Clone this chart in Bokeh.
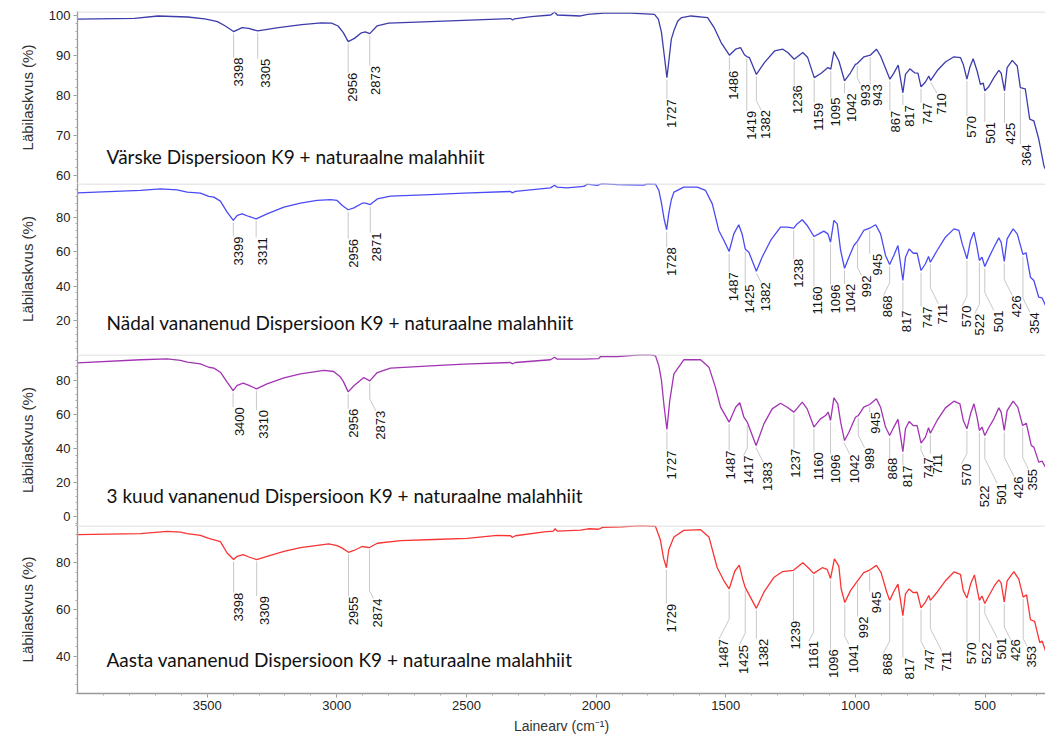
import numpy as np
from bokeh.plotting import figure
from bokeh.layouts import column
from bokeh.models import Range1d, SingleIntervalTicker, FixedTicker, Span, Label
from bokeh.embed import file_html
from bokeh.resources import INLINE
from bokeh.core.properties import value

# ---------------- data ----------------
titles = ["Värske Dispersioon K9 + naturaalne malahhiit",
          "Nädal vananenud Dispersioon K9 + naturaalne malahhiit",
          "3 kuud vananenud Dispersioon K9 + naturaalne malahhiit",
          "Aasta vananenud Dispersioon K9 + naturaalne malahhiit"]
y_label = "Läbilaskvus (%)"
x_label = "Lainearv (cm\u207b\u00b9)"
x_tick_labels = [3500, 3000, 2500, 2000, 1500, 1000, 500]

wn_1 = [4000, 3780, 3690, 3575, 3510, 3495, 3460, 3430, 3398, 3365,
        3340, 3305, 3225, 3135, 3060, 3020, 2995, 2975, 2956, 2932,
        2905, 2890, 2873, 2845, 2800, 2640, 2330, 2322, 2315, 2250,
        2175, 2160, 2150, 2060, 2032, 1970, 1865, 1775, 1760, 1748,
        1736, 1727, 1719, 1710, 1698, 1685, 1670, 1634, 1570, 1545,
        1518, 1486, 1462, 1443, 1428, 1419, 1409, 1382, 1351, 1312,
        1280, 1261, 1236, 1203, 1184, 1159, 1132, 1106, 1095, 1083,
        1064, 1042, 1019, 1000, 993, 967, 943, 919, 903, 867,
        852, 835, 817, 807, 790, 772, 759, 747, 730, 717,
        710, 685, 653, 620, 595, 584, 570, 559, 546, 531,
        518, 507, 501, 486, 466, 447, 438, 425, 415, 395,
        376, 364, 345, 328, 312, 293, 273, 267]
tr_1 = [99.2, 99.4, 100.0, 99.75, 99.3, 99.1, 98.6, 97.5, 96.1, 97.1,
        96.9, 96.25, 97.1, 97.85, 98.3, 98.2, 97.5, 95.85, 93.6, 94.4,
        95.8, 96.0, 95.6, 97.5, 98.2, 98.6, 99.35, 99.0, 99.3, 99.85,
        100.25, 101.0, 100.25, 100.0, 100.4, 100.7, 100.7, 100.4, 99.2, 95.9,
        89.5, 84.6, 89.0, 94.2, 96.7, 98.75, 99.6, 100.0, 99.6, 97.1,
        93.35, 90.2, 91.7, 92.1, 90.3, 89.85, 89.6, 85.4, 88.35, 91.25,
        91.7, 90.85, 89.2, 90.85, 89.6, 84.6, 85.7, 87.1, 86.7, 91.1,
        88.8, 83.8, 85.8, 87.9, 88.1, 89.8, 90.2, 91.7, 90.0, 84.2,
        85.7, 87.7, 80.8, 85.4, 86.8, 85.8, 85.7, 82.3, 83.5, 85.0,
        83.9, 86.3, 88.5, 89.8, 89.6, 87.9, 84.2, 87.1, 89.3, 86.3,
        82.9, 83.2, 81.3, 82.3, 84.6, 86.4, 85.7, 81.3, 87.1, 88.9,
        87.5, 82.1, 81.8, 74.2, 73.8, 69.2, 62.5, 61.7]

wn_2 = [4000, 3757, 3680, 3616, 3577, 3526, 3494, 3474, 3449, 3423,
        3399, 3384, 3365, 3339, 3311, 3269, 3204, 3140, 3076, 3024,
        2999, 2979, 2956, 2934, 2902, 2889, 2871, 2844, 2793, 2639,
        2510, 2330, 2324, 2311, 2176, 2160, 2150, 2112, 2047, 2035,
        1996, 1977, 1919, 1816, 1803, 1771, 1758, 1748, 1738, 1728,
        1720, 1710, 1700, 1662, 1610, 1578, 1552, 1527, 1507, 1487,
        1469, 1450, 1437, 1425, 1411, 1382, 1360, 1327, 1289, 1263,
        1238, 1225, 1205, 1186, 1160, 1141, 1122, 1106, 1096, 1083,
        1070, 1057, 1042, 1025, 1006, 992, 968, 945, 922, 903,
        884, 868, 852, 836, 817, 807, 793, 777, 762, 747,
        730, 718, 711, 685, 653, 620, 601, 588, 570, 556,
        543, 531, 522, 512, 501, 486, 466, 447, 438, 426,
        415, 392, 376, 354, 342, 325, 312, 293, 280, 267]
tr_2 = [94.0, 95.4, 96.3, 95.75, 94.4, 93.8, 91.9, 91.5, 89.2, 82.8,
        78.0, 80.9, 81.8, 80.3, 78.9, 81.8, 85.7, 88.0, 89.6, 90.1,
        89.6, 86.7, 84.2, 85.3, 88.0, 88.0, 87.2, 90.5, 92.1, 93.0,
        93.8, 94.8, 94.0, 94.8, 96.9, 98.45, 97.3, 96.9, 97.7, 99.0,
        98.3, 99.4, 98.8, 98.45, 99.2, 99.0, 95.4, 88.0, 79.0, 72.6,
        82.0, 90.0, 94.4, 97.3, 97.3, 95.4, 87.6, 72.2, 66.4, 60.0,
        70.2, 75.5, 70.2, 61.5, 59.6, 48.6, 56.7, 66.4, 74.1, 74.1,
        73.5, 76.0, 78.4, 75.1, 68.7, 70.2, 71.8, 70.2, 65.4, 78.0,
        76.0, 60.6, 50.3, 56.7, 63.5, 66.0, 72.2, 73.5, 75.5, 70.2,
        57.7, 52.5, 57.7, 63.5, 43.2, 56.7, 61.5, 59.0, 59.0, 49.0,
        52.9, 57.1, 53.8, 60.6, 68.3, 73.1, 72.2, 64.4, 55.8, 66.4,
        71.2, 62.5, 54.8, 56.7, 51.3, 56.3, 62.5, 67.9, 65.4, 54.2,
        67.3, 73.1, 70.2, 58.3, 59.3, 45.1, 43.2, 33.5, 33.1, 28.7]

wn_3 = [4000, 3757, 3654, 3603, 3577, 3526, 3494, 3474, 3449, 3423,
        3400, 3384, 3361, 3339, 3310, 3269, 3204, 3140, 3050, 3012,
        2986, 2975, 2956, 2934, 2896, 2873, 2844, 2793, 2639, 2510,
        2330, 2324, 2311, 2176, 2160, 2150, 2047, 1990, 1983, 1919,
        1829, 1790, 1771, 1758, 1748, 1738, 1727, 1716, 1700, 1662,
        1597, 1565, 1540, 1520, 1487, 1462, 1446, 1430, 1417, 1383,
        1353, 1321, 1289, 1263, 1237, 1205, 1186, 1160, 1135, 1115,
        1105, 1096, 1083, 1068, 1057, 1042, 1025, 1000, 989, 968,
        945, 919, 903, 884, 868, 852, 836, 817, 807, 793,
        777, 762, 747, 730, 718, 711, 685, 653, 620, 597,
        584, 570, 556, 543, 531, 522, 512, 501, 486, 466,
        447, 438, 426, 415, 392, 374, 355, 341, 322, 312,
        293, 280, 267]
tr_3 = [90.4, 92.2, 92.7, 91.8, 90.8, 89.8, 87.8, 87.3, 84.9, 79.0,
        74.1, 77.1, 78.4, 77.1, 75.1, 78.0, 81.6, 83.9, 85.9, 85.3,
        82.0, 79.5, 73.3, 76.9, 81.8, 79.8, 84.7, 87.3, 88.6, 89.6,
        90.6, 89.8, 90.6, 92.2, 93.7, 92.55, 92.55, 92.9, 94.1, 94.1,
        95.1, 95.1, 94.5, 88.6, 80.0, 65.0, 51.2, 68.2, 83.9, 92.2,
        92.2, 87.85, 76.1, 64.3, 55.5, 64.3, 66.9, 58.4, 55.5, 41.8,
        54.5, 63.3, 66.6, 64.3, 61.4, 67.3, 63.3, 52.6, 57.45, 59.4,
        61.4, 56.5, 69.8, 66.3, 55.5, 44.7, 49.6, 58.4, 59.4, 64.3,
        65.9, 69.2, 64.3, 52.6, 47.6, 52.6, 57.1, 38.2, 51.6, 55.9,
        53.5, 53.5, 43.1, 46.7, 52.2, 49.0, 56.5, 63.9, 67.85, 66.3,
        56.5, 51.6, 60.4, 66.3, 58.4, 50.6, 52.6, 47.6, 52.2, 57.45,
        63.9, 61.4, 50.6, 62.3, 67.85, 64.3, 53.5, 54.9, 41.8, 40.8,
        32.0, 32.6, 29.0]

wn_4 = [4000, 3757, 3654, 3603, 3577, 3526, 3494, 3449, 3423, 3398,
        3384, 3361, 3339, 3309, 3269, 3204, 3140, 3031, 2999, 2979,
        2955, 2934, 2902, 2874, 2844, 2754, 2626, 2497, 2382, 2330,
        2324, 2311, 2200, 2165, 2158, 2150, 2060, 2030, 1990, 1975,
        1900, 1829, 1771, 1752, 1740, 1729, 1720, 1700, 1662, 1597,
        1565, 1533, 1507, 1487, 1465, 1448, 1433, 1425, 1382, 1353,
        1315, 1282, 1239, 1203, 1186, 1161, 1128, 1109, 1096, 1081,
        1064, 1055, 1041, 1019, 992, 968, 945, 919, 901, 880,
        868, 852, 836, 817, 807, 793, 777, 762, 747, 730,
        717, 711, 685, 653, 620, 595, 584, 570, 556, 541,
        531, 522, 512, 501, 486, 464, 447, 438, 426, 415,
        389, 370, 353, 340, 325, 309, 289, 280, 267]
tr_4 = [92.1, 92.5, 93.5, 93.2, 92.5, 91.8, 90.45, 89.1, 84.2, 81.4,
        82.8, 83.5, 82.5, 81.4, 82.8, 84.9, 86.55, 88.1, 87.4, 86.3,
        84.5, 85.3, 87.0, 86.55, 88.4, 89.5, 90.0, 90.45, 91.8, 91.6,
        90.9, 91.6, 93.3, 93.6, 94.6, 93.6, 94.0, 94.6, 94.4, 95.2,
        95.4, 96.0, 95.6, 89.75, 82.0, 77.9, 85.6, 91.1, 93.9, 94.2,
        91.1, 77.9, 72.3, 68.8, 76.5, 79.0, 72.3, 69.5, 60.5, 67.4,
        73.7, 76.2, 76.8, 80.0, 78.3, 75.5, 77.9, 77.2, 73.3, 81.7,
        78.6, 68.8, 63.0, 68.1, 72.3, 75.8, 76.9, 78.9, 75.8, 67.7,
        63.9, 67.7, 70.9, 57.4, 66.7, 68.8, 67.2, 67.4, 60.7, 63.2,
        66.0, 63.9, 67.4, 72.3, 76.1, 75.1, 68.1, 64.9, 70.9, 74.8,
        68.8, 63.9, 65.8, 62.55, 65.8, 70.2, 72.7, 71.3, 63.2, 72.3,
        76.2, 73.0, 65.3, 66.3, 55.6, 54.9, 45.8, 46.5, 42.3]

# peak annotations: peak wavenumber, label top (panel units), label shift (px)
peaks_1 = [3398, 3305, 2956, 2873, 1727, 1486, 1419, 1382, 1236, 1159, 1095,
           1042, 993, 943, 867, 817, 747, 710, 570, 501, 425, 364]
ltop_1 = [89.6, 89.3, 85.8, 87.5, 79.2, 86.3, 76.3, 76.5, 82.7, 78.3, 79.6,
          80.7, 82.9, 82.9, 76.3, 77.7, 78.3, 80.7, 75.0, 73.5, 73.3, 67.9]
lshift_1 = [2.3, 5, 1.7, 3.3, 2.3, 2, 2, 6.7, 1, 2.3, 2.3,
            4.3, 5.3, 5, 3.3, 4.3, 4.3, 8.3, 2.3, 2.7, 3.3, 3.3]

peaks_2 = [3399, 3311, 2956, 2871, 1728, 1487, 1425, 1382, 1238, 1160, 1096,
           1042, 992, 945, 868, 817, 747, 711, 570, 522, 501, 426, 354]
ltop_2 = [68.7, 68.3, 67.3, 71.0, 62.5, 48.0, 40.9, 42.2, 55.75, 39.7, 40.9,
          41.3, 46.1, 58.7, 34.5, 25.8, 28.1, 29.7, 28.7, 23.9, 25.8, 34.5, 24.8]
lshift_2 = [2.3, 4.3, 2.7, 4, 2.7, 1.7, 1.7, 6.7, 2.3, 1.3, 2.3,
            3.3, 6, 5, -4.3, 1, 4.3, 10, -2.7, -2.7, 11, 10, 9]

peaks_3 = [3400, 3310, 2956, 2873, 1727, 1487, 1417, 1383, 1237, 1160, 1096,
           1042, 989, 945, 868, 817, 747, 711, 570, 522, 501, 426, 355]
ltop_3 = [64.3, 62.7, 63.3, 62.2, 38.8, 38.8, 35.9, 32.0, 39.8, 37.8, 36.5,
          36.5, 40.4, 61.4, 34.5, 30.0, 34.9, 36.9, 31.0, 18.2, 19.6, 23.5, 28.0]
lshift_3 = [4, 4.3, 2.7, 8, 2.3, -1, -1.7, 9, -1, 2.3, 2.7,
            7.3, 8.3, 3.3, 0, 1.7, 5.3, 5, -3.3, 2.3, 14.3, 11.7, 7.7]

peaks_4 = [3398, 3309, 2955, 2874, 1729, 1487, 1425, 1382, 1239, 1161, 1096,
           1041, 992, 945, 868, 817, 747, 711, 570, 522, 501, 426, 353]
ltop_4 = [67.2, 65.8, 65.6, 64.7, 62.5, 47.2, 44.8, 47.5, 55.2, 46.5, 43.0,
          45.1, 57.0, 67.7, 41.2, 39.3, 43.0, 42.3, 45.8, 45.8, 47.9, 47.2, 44.4]
lshift_4 = [2.3, 5, 2.7, 6, 3, -8.3, -4, 5, 0, -2.7, 0.7,
            6, 3.3, 4.7, -4.3, 4.3, 6, 13.3, 2.3, 4.7, 14.3, 8.3, 5.7]

# ---------------- layout / style ----------------
X_START, X_END = 4000, 267
FIG_W = 1045
BORDER_L = 77
FRAME_W = FIG_W - BORDER_L
PPX = FRAME_W / (X_START - X_END)
X_MINOR = list(range(3900, 299, -100))

panels = [
    dict(wn=wn_1, tr=tr_1, color="#3c3cab", yr=(58.12, 101.12), step=10, h=172,
         pk=peaks_1, top=ltop_1, sh=lshift_1, title=titles[0], toff=27, std=10),
    dict(wn=wn_2, tr=tr_2, color="#4b4bf5", yr=(0.3, 99.42), step=20, h=171,
         pk=peaks_2, top=ltop_2, sh=lshift_2, title=titles[1], toff=32, std=17),
    dict(wn=wn_3, tr=tr_3, color="#a234b3", yr=(-5.3, 95.3), step=20, h=171,
         pk=peaks_3, top=ltop_3, sh=lshift_3, title=titles[2], toff=30, std=17),
    dict(wn=wn_4, tr=tr_4, color="#f83434", yr=(24.0, 96.0), step=20, h=172,
         pk=peaks_4, top=ltop_4, sh=lshift_4, title=titles[3], toff=34, std=17),
]

x_range = Range1d(X_START, X_END)
figs = []
for i, P in enumerate(panels):
    first = i == 0
    last = i == len(panels) - 1
    bottom = 39 if last else 0
    top_b = 11 if first else 0
    p = figure(width=FIG_W, height=P["h"] + bottom + top_b, x_range=x_range,
               y_range=Range1d(*P["yr"]), output_backend="svg",
               toolbar_location=None, min_border_left=BORDER_L,
               min_border_right=0, min_border_top=top_b, min_border_bottom=bottom,
               x_axis_location="below" if last else None)
    p.outline_line_color = None
    p.background_fill_color = "white"
    p.border_fill_color = "white"
    p.xgrid.visible = False
    p.ygrid.visible = False

    ya = p.yaxis[0]
    ya.ticker = SingleIntervalTicker(interval=P["step"], num_minor_ticks=5)
    ya.axis_label = y_label
    ya.axis_label_text_font = "Liberation Sans"
    ya.axis_label_text_font_size = "15px"
    ya.axis_label_text_font_style = "normal"
    ya.axis_label_text_color = "#333333"
    ya.axis_label_standoff = P["std"]
    ya.major_label_text_font = "Liberation Sans"
    ya.major_label_text_font_size = "13px"
    ya.major_label_text_line_height = 0.9
    ya.major_label_text_color = "#222222"
    ya.major_label_standoff = 3
    ya.axis_line_color = "#999999"
    ya.axis_line_width = 1.3
    ya.major_tick_line_color = "#999999"
    ya.minor_tick_line_color = "#aaaaaa"
    ya.major_tick_in = 0
    ya.major_tick_out = 4
    ya.minor_tick_in = 0
    ya.minor_tick_out = 2

    if last:
        xa = p.xaxis[0]
        xa.ticker = FixedTicker(ticks=x_tick_labels, minor_ticks=X_MINOR)
        xa.axis_label = x_label
        xa.axis_label_text_font = "Liberation Sans"
        xa.axis_label_text_font_size = "14px"
        xa.axis_label_text_font_style = "normal"
        xa.axis_label_text_color = "#333333"
        xa.axis_label_standoff = 5
        xa.major_label_text_font = "Liberation Sans"
        xa.major_label_text_font_size = "13px"
        xa.major_label_text_color = "#222222"
        xa.major_label_standoff = 3
        xa.axis_line_color = "#999999"
        xa.axis_line_width = 1.3
        xa.major_tick_line_color = "#999999"
        xa.minor_tick_line_color = "#aaaaaa"
        xa.major_tick_in = 0
        xa.major_tick_out = 4
        xa.minor_tick_in = 0
        xa.minor_tick_out = 2

    y0, y1 = P["yr"]
    ppy = P["h"] / (y1 - y0)

    # top divider (half a pixel inside the frame so it is not clipped)
    p.add_layout(Span(location=y1 - 0.5 / ppy, dimension="width",
                      line_color="#d4d4d4", line_width=1))

    wn = np.array(P["wn"], dtype=float)
    tr = np.array(P["tr"], dtype=float)
    p.line(wn, tr, line_color=P["color"], line_width=1.3)

    # peak annotations
    xs, ys, tx, ty, tt = [], [], [], [], []
    for pk, top, sh in zip(P["pk"], P["top"], P["sh"]):
        vc = float(np.interp(pk, wn[::-1], tr[::-1]))
        ystart = vc - 2.0 / ppy
        adx = sh - 2.0
        xe = pk - adx / PPX
        if abs(adx) <= 3:
            xs.append([pk, pk])
            ys.append([ystart, top])
        else:
            ybend = min(top + 2.0 * abs(adx) / ppy, ystart)
            xs.append([pk, pk, xe])
            ys.append([ystart, ybend, top])
        tx.append(xe)
        ty.append(top)
        tt.append(str(pk))
    p.multi_line(xs, ys, line_color="#c8c8c8", line_width=1)
    p.text(tx, ty, text=tt, angle=np.pi / 2, text_align="right",
           text_baseline="top", text_font=value("Liberation Sans"),
           text_font_size="13px", text_color="#111111")

    p.add_layout(Label(x=X_START, y=y0, x_offset=29, y_offset=P["toff"],
                       text=P["title"], text_font="Lato",
                       text_font_size="19px", text_baseline="middle",
                       text_color="#111111"))
    figs.append(p)

layout = column(*figs)

open("out.html", "w").write(file_html(layout, INLINE))
